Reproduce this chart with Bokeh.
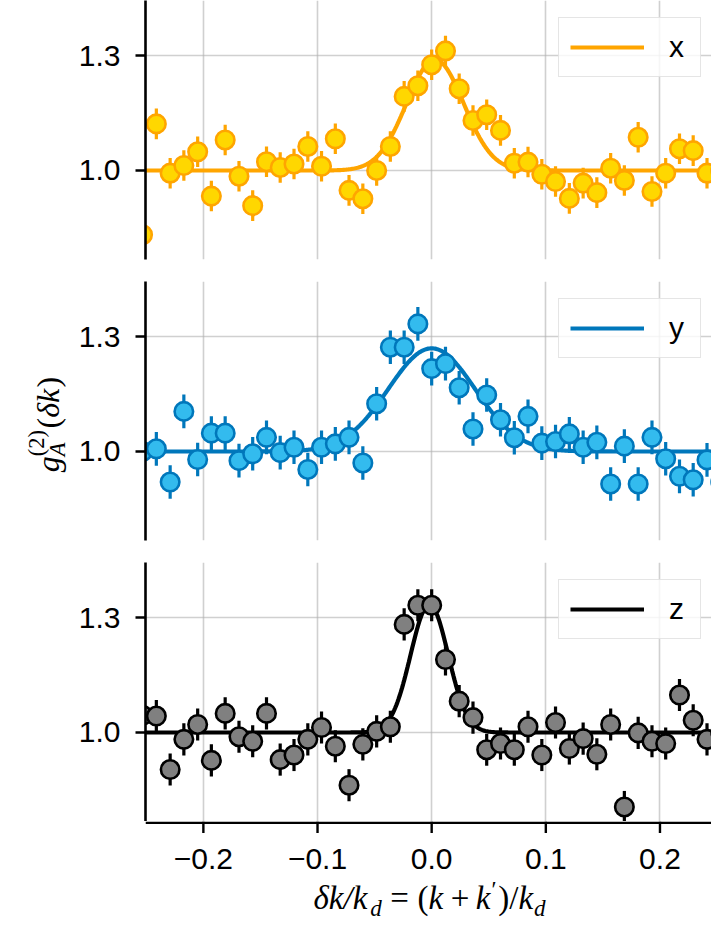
import numpy as np
from bokeh.plotting import figure
from bokeh.layouts import column, row
from bokeh.models import Range1d, FixedTicker, Label
from bokeh.embed import file_html
from bokeh.resources import INLINE

# ---------------- data ----------------
dk = [-0.2533, -0.2412, -0.2291, -0.2171, -0.2050, -0.1930, -0.1809, -0.1688, -0.1568,
      -0.1447, -0.1327, -0.1206, -0.1085, -0.0965, -0.0844, -0.0724, -0.0603, -0.0482,
      -0.0362, -0.0241, -0.0121, 0.0, 0.0121, 0.0241, 0.0362, 0.0482, 0.0603, 0.0724,
      0.0844, 0.0965, 0.1085, 0.1206, 0.1327, 0.1447, 0.1568, 0.1688, 0.1809, 0.1930,
      0.2050, 0.2171, 0.2291, 0.2412, 0.2533]

g2_x = [0.832, 1.122, 0.993, 1.013, 1.049, 0.933, 1.080, 0.985, 0.908, 1.023, 1.008,
        1.017, 1.063, 1.011, 1.083, 0.948, 0.926, 1.000, 1.063, 1.194, 1.222, 1.277,
        1.313, 1.214, 1.131, 1.146, 1.105, 1.019, 1.022, 0.990, 0.971, 0.927, 0.967,
        0.942, 1.006, 0.974, 1.087, 0.945, 0.993, 1.057, 1.052, 0.993, 1.000]

g2_y = [1.000, 1.007, 0.920, 1.105, 0.979, 1.048, 1.048, 0.976, 0.994, 1.037, 0.997,
        1.011, 0.953, 1.011, 1.020, 1.037, 0.970, 1.125, 1.273, 1.273, 1.334, 1.217,
        1.230, 1.167, 1.059, 1.148, 1.083, 1.036, 1.092, 1.022, 1.026, 1.046, 1.011,
        1.024, 0.915, 1.014, 0.915, 1.037, 0.981, 0.935, 0.926, 0.978, 0.920]

g2_z = [1.045, 1.043, 0.903, 0.982, 1.021, 0.927, 1.050, 0.989, 0.977, 1.050, 0.929,
        0.941, 0.982, 1.013, 0.964, 0.862, 0.969, 1.003, 1.015, 1.283, 1.333, 1.333,
        1.191, 1.082, 1.039, 0.955, 0.971, 0.955, 1.015, 0.941, 1.026, 0.958, 0.984,
        0.943, 1.021, 0.805, 0.999, 0.977, 0.971, 1.098, 1.032, 0.982, 1.000]

err_x = [0.040, 0.040, 0.040, 0.040, 0.040, 0.040, 0.040, 0.040, 0.040, 0.040, 0.040,
         0.040, 0.040, 0.040, 0.040, 0.040, 0.040, 0.040, 0.040, 0.040, 0.040, 0.040,
         0.040, 0.040, 0.040, 0.040, 0.040, 0.040, 0.040, 0.040, 0.040, 0.040, 0.040,
         0.040, 0.040, 0.040, 0.040, 0.040, 0.040, 0.040, 0.040, 0.040, 0.040]
err_y = [0.044, 0.044, 0.044, 0.044, 0.044, 0.044, 0.044, 0.044, 0.044, 0.044, 0.044,
         0.044, 0.044, 0.044, 0.044, 0.044, 0.044, 0.044, 0.044, 0.044, 0.044, 0.044,
         0.044, 0.044, 0.044, 0.044, 0.044, 0.044, 0.044, 0.044, 0.044, 0.044, 0.044,
         0.044, 0.044, 0.044, 0.044, 0.044, 0.044, 0.044, 0.044, 0.044, 0.044]
err_z = [0.042, 0.042, 0.042, 0.042, 0.042, 0.042, 0.042, 0.042, 0.042, 0.042, 0.042,
         0.042, 0.042, 0.042, 0.042, 0.042, 0.042, 0.042, 0.042, 0.042, 0.042, 0.042,
         0.042, 0.042, 0.042, 0.042, 0.042, 0.042, 0.042, 0.042, 0.042, 0.042, 0.042,
         0.042, 0.042, 0.042, 0.042, 0.042, 0.042, 0.042, 0.042, 0.042, 0.042]

# Gaussian fit parameters (baseline 1): amplitude, centre, width
fit_x = (0.29, 0.003, 0.025)
fit_y = (0.27, 0.000, 0.038)
fit_z = (0.335, -0.002, 0.0165)

series_names = ["x", "y", "z"]
tick_x = [-0.2, -0.1, 0.0, 0.1, 0.2]
tick_x_labels = ["\u22120.2", "\u22120.1", "0.0", "0.1", "0.2"]
tick_y = [1.0, 1.3]
tick_y_labels = ["1.0", "1.3"]

# ---------------- layout constants ----------------
YLAB_W = 75               # left strip holding the y label
W = 711 - YLAB_W          # panel width
FRAME_LEFT = 145 - YLAB_W # frame starts at page x = 145
PX_PER_X = 1141.5
X_START = -0.2507
X_END = X_START + (W - FRAME_LEFT) / PX_PER_X
Y_LO = 0.767
Y_HI = 1.445
SANS = "Liberation Sans"
SERIF = "Liberation Serif"
MID = 0.34                # baseline -> middle of text box, in em

H1, H2, H3, HX = 270, 281, 270, 105
H_TOTAL = H1 + H2 + H3 + HX
AXIS_Y = H1 + H2 + H3     # page y of the bottom spine


def panel(height, top, bottom, vals, errs, fit, name, fill, edge):
    p = figure(width=W, height=height,
               x_range=Range1d(X_START, X_END), y_range=Range1d(Y_LO, Y_HI),
               output_backend="svg", toolbar_location=None,
               min_border_left=FRAME_LEFT, min_border_right=0,
               min_border_top=top, min_border_bottom=bottom)
    p.outline_line_color = None
    p.background_fill_color = "white"
    p.border_fill_color = "white"

    p.yaxis.ticker = FixedTicker(ticks=tick_y)
    p.xgrid.ticker = FixedTicker(ticks=tick_x)
    p.ygrid.ticker = FixedTicker(ticks=tick_y)
    p.yaxis.major_label_overrides = dict(zip(tick_y, tick_y_labels))
    ax = p.yaxis[0]
    ax.axis_line_width = 2.6
    ax.axis_line_color = "black"
    ax.major_tick_line_width = 2.4
    ax.major_tick_out = 10
    ax.major_tick_in = 0
    ax.minor_tick_line_color = None
    ax.major_label_text_font = SANS
    ax.major_label_text_font_size = "30px"
    ax.major_label_text_color = "black"
    ax.major_label_standoff = 15
    p.xaxis.visible = False
    for g in (p.xgrid[0], p.ygrid[0]):
        g.grid_line_color = "#b0b0b0"
        g.grid_line_alpha = 0.6
        g.grid_line_width = 1.6

    lo = [v - e for v, e in zip(vals, errs)]
    hi = [v + e for v, e in zip(vals, errs)]
    p.segment(x0=dk, y0=lo, x1=dk, y1=hi, line_color=edge, line_width=3.2)

    amp, cen, sig = fit
    xs = np.linspace(-0.27, 0.27, 541)
    ys = 1.0 + amp * np.exp(-(xs - cen) ** 2 / (2 * sig ** 2))
    p.line(xs, ys, line_color=edge, line_width=4.2, legend_label=name)

    p.scatter(dk, vals, size=18.5, fill_color=fill, line_color=edge, line_width=2.6)

    lg = p.legend[0]
    lg.location = (413, 182)
    lg.padding = 11
    lg.margin = 0
    lg.spacing = 0
    lg.label_standoff = 25
    lg.glyph_width = 74
    lg.glyph_height = 36
    lg.label_height = 36
    lg.label_text_font = SANS
    lg.label_text_font_size = "30px"
    lg.label_text_color = "black"
    lg.border_line_color = "#cccccc"
    lg.border_line_width = 1.5
    lg.background_fill_alpha = 0.8
    return p


p1 = panel(H1, 0, 11, g2_x, err_x, fit_x, series_names[0], "#FFD700", "#FFA500")
p2 = panel(H2, 11, 11, g2_y, err_y, fit_y, series_names[1], "#33BBEE", "#0077BB")
p3 = panel(H3, 11, 0, g2_z, err_z, fit_z, series_names[2], "#808080", "black")


def blank(width, height, xr, yr, left):
    f = figure(width=width, height=height, x_range=xr, y_range=yr,
               output_backend="svg", toolbar_location=None,
               x_axis_type=None, y_axis_type=None, frame_align=False,
               min_border_left=left, min_border_right=0, min_border_top=0, min_border_bottom=0)
    f.outline_line_color = None
    f.background_fill_color = "white"
    f.border_fill_color = "white"
    f.grid.visible = False
    return f


# bottom strip: x in data units (same scale as the panels), y = page pixels
xlab = blank(W, HX, Range1d(X_START, X_END), Range1d(AXIS_Y + HX, AXIS_Y), FRAME_LEFT)
# bottom spine and ticks of the lowest panel
xlab.segment(x0=[X_START], y0=[AXIS_Y + 1.3], x1=[X_END], y1=[AXIS_Y + 1.3],
             line_color="black", line_width=2.6)
xlab.segment(x0=tick_x, y0=[AXIS_Y] * len(tick_x), x1=tick_x,
             y1=[AXIS_Y + 11.5] * len(tick_x), line_color="black", line_width=2.4)
for t, lab in zip(tick_x, tick_x_labels):
    xlab.add_layout(Label(x=t, y=AXIS_Y + 37, text=lab, text_font=SANS,
                          text_font_size="30px", text_align="center",
                          text_baseline="middle", text_color="black"))


def dx(page_x):
    return X_START + (page_x - 145) / PX_PER_X


# ---------------- x-axis label (math-like, serif) ----------------
F = 33
xl = [  # text, style, size scale, baseline shift (em, + = down), advance (em own), gap before (em)
    ("\u03b4k/k", "italic", 1.0, 0.0, 1.72, 0.0),
    ("d", "italic", 0.7, 0.2, 0.5, 0.0),
    ("=", "normal", 1.0, 0.0, 0.564, 0.26),
    ("(", "normal", 1.0, 0.0, 0.333, 0.26),
    ("k", "italic", 1.0, 0.0, 0.47, 0.0),
    ("+", "normal", 1.0, 0.0, 0.564, 0.2),
    ("k", "italic", 1.0, 0.0, 0.47, 0.2),
    ("\u2032", "normal", 0.7, -0.38, 0.3, 0.0),
    (")", "normal", 1.0, 0.0, 0.333, 0.0),
    ("/", "normal", 1.0, 0.0, 0.278, 0.0),
    ("k", "italic", 1.0, 0.0, 0.47, 0.0),
    ("d", "italic", 0.7, 0.2, 0.5, 0.0),
]
total = sum(g * F + a * s * F for _, _, s, _, a, g in xl)
cur = 429 - total / 2
base_y = 909             # page y of the label baseline
for t, st, s, sh, a, g in xl:
    cur += g * F
    xlab.add_layout(Label(x=dx(cur), y=base_y + sh * F - MID * s * F, text=t,
                          text_font=SERIF, text_font_style=st,
                          text_font_size=f"{s * F:.1f}px", text_align="left",
                          text_baseline="middle", text_color="black"))
    cur += a * s * F

# ---------------- y-axis label (rotated) ----------------
ylab = blank(YLAB_W, H_TOTAL, Range1d(0, YLAB_W), Range1d(H_TOTAL, 0), 0)
FY = 32
yl = [  # text, style, size scale, shift (em, + = below baseline), advance (em own), gap
    ("g", "italic", 1.0, 0.0, 0.5, 0.0),
    ("A", "italic", 0.7, 0.22, 0.0, 0.0),
    ("(2)", "normal", 0.7, -0.45, 1.166, 0.0),
    ("(", "normal", 1.0, 0.0, 0.333, 0.05),
    ("\u03b4k", "italic", 1.0, 0.0, 0.95, 0.0),
    (")", "normal", 1.0, 0.0, 0.333, 0.0),
]
ytotal = sum(g * FY + a * s * FY for _, _, s, _, a, g in yl)
ycur = 424 + ytotal / 2     # page y of text start (bottom)
base_x = 58                 # page x of the (rotated) baseline
for t, st, s, sh, a, g in yl:
    ycur -= g * FY
    ylab.add_layout(Label(x=base_x + sh * FY - MID * s * FY, y=ycur, text=t,
                          text_font=SERIF, text_font_style=st,
                          text_font_size=f"{s * FY:.1f}px", text_align="left",
                          text_baseline="middle", angle=np.pi / 2, text_color="black"))
    ycur -= a * s * FY

layout = row(ylab, column(p1, p2, p3, xlab, spacing=0), spacing=0)
open("out.html", "w").write(file_html(layout, INLINE))
